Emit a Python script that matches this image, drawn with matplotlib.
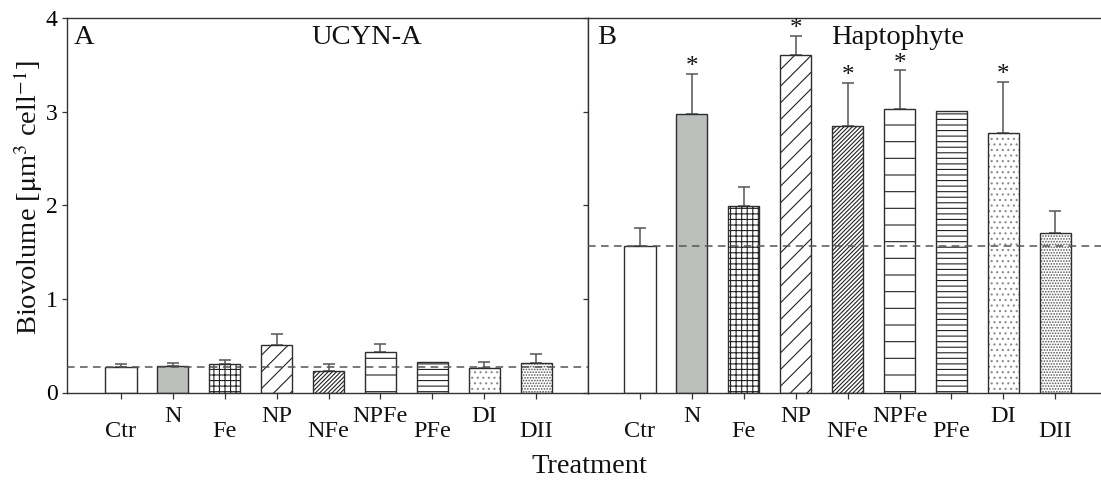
import numpy as np
import matplotlib
matplotlib.use("Agg")
import matplotlib.pyplot as plt

plt.rcParams['font.family'] = ['Liberation Serif', 'DejaVu Serif']
plt.rcParams['mathtext.fontset'] = 'stix'
plt.rcParams['hatch.linewidth'] = 0.8

# ---------------- data ----------------
treatments = ["Ctr", "N", "Fe", "NP", "NFe", "NPFe", "PFe", "DI", "DII"]

ucyn_mean = [0.27, 0.28, 0.30, 0.51, 0.23, 0.43, 0.33, 0.26, 0.32]
ucyn_upper = [0.30, 0.32, 0.35, 0.62, 0.30, 0.52, None, 0.33, 0.41]
ucyn_control = 0.27

hapto_mean = [1.56, 2.97, 1.99, 3.60, 2.85, 3.03, 3.01, 2.77, 1.70]
hapto_upper = [1.76, 3.40, 2.20, 3.81, 3.31, 3.44, None, 3.32, 1.94]
hapto_control = 1.56
hapto_signif = [False, True, False, True, True, True, False, True, False]

yticks = [0, 1, 2, 3, 4]

# ---------------- styles ----------------
fills = ['white', '#bcc0bc', 'white', 'white', 'white', 'white', 'white', 'white', 'white']
hatches = [None, None, '+++', '//', '////////', '-', '---', '...', '......']
hatch_cols = ['#333333', '#333333', '#222222', '#222222', '#222222', '#222222',
              '#222222', '#8a8a8a', '#555555']
edge = '#2e2e2e'
W, H = 1101, 484
fig = plt.figure(figsize=(W / 100, H / 100), dpi=100)

top = 1 - 18 / H
bot = 1 - 392.5 / H
xa0, xmid, xb1 = 67 / W, 588 / W, 1.0
axA = fig.add_axes([xa0, bot, xmid - xa0, top - bot])
axB = fig.add_axes([xmid, bot, xb1 - xmid, top - bot])

x = np.arange(len(treatments))


def draw(ax, means, uppers, control):
    for i in range(len(means)):
        ax.bar(x[i], means[i], width=0.6, color=fills[i], edgecolor=hatch_cols[i],
               hatch=hatches[i], linewidth=0, zorder=2)
        ax.bar(x[i], means[i], width=0.6, color='none', edgecolor=edge,
               linewidth=1.0, zorder=3)
    idx = [i for i, u in enumerate(uppers) if u is not None]
    m = np.array([means[i] for i in idx])
    u = np.array([uppers[i] for i in idx])
    ax.errorbar(x[idx], m, yerr=[np.zeros_like(m), u - m], fmt='none',
                ecolor='#555555', elinewidth=1.1, capsize=4.3, capthick=1.1, zorder=1)
    ax.axhline(control, color='#555555', lw=1.1, ls=(0, (5, 3.5)), zorder=4)
    ax.set_ylim(0, 4)
    ax.set_yticks(yticks)
    ax.set_xticks(x)
    ax.set_xticklabels([])
    ax.tick_params(axis='x', direction='out', length=4.3, width=0.9, color='#333333')
    ax.tick_params(axis='y', direction='out', length=3.6, width=0.9, color='#333333',
                   labelsize=17, pad=3)
    for s in ax.spines.values():
        s.set_color('#333333')
        s.set_linewidth(1.0)
    for i, lab in enumerate(treatments):
        off = -20.5 if i % 2 == 0 else -9.5
        ax.annotate(lab, xy=(x[i], 0), xycoords=('data', 'axes fraction'),
                    xytext=(0, off), textcoords='offset points',
                    ha='center', va='top', fontsize=17.5, color='#111111')


draw(axA, ucyn_mean, ucyn_upper, ucyn_control)
draw(axB, hapto_mean, hapto_upper, hapto_control)

axA.set_xlim(-1.04, 9.0)
axB.set_xlim(-1.0, 8.88)
axB.set_yticklabels([])
axB.spines['right'].set_visible(False)

for i, sig in enumerate(hapto_signif):
    if sig:
        axB.annotate('*', xy=(x[i], hapto_upper[i]), xytext=(0, 0.5),
                     textcoords='offset points', ha='center', va='baseline',
                     fontsize=18, color='#111111')

axA.text(0.013, 0.98, 'A', transform=axA.transAxes, fontsize=20.5, va='top', ha='left',
         color='#111111')
axA.text(0.576, 0.98, 'UCYN-A', transform=axA.transAxes, fontsize=20.5, va='top',
         ha='center', color='#111111')
axB.text(0.017, 0.98, 'B', transform=axB.transAxes, fontsize=20.5, va='top', ha='left',
         color='#111111')
axB.text(0.604, 0.98, 'Haptophyte', transform=axB.transAxes, fontsize=20.5, va='top',
         ha='center', color='#111111')

fig.text(28 / W, 1 - 198 / H, r'Biovolume [$\mathrm{\mu}$m$^3$ cell$^{-1}$]',
         rotation=90, ha='center', va='center', fontsize=20.5, color='#111111')
fig.text(589 / W, 1 - 473 / H, 'Treatment', ha='center', va='baseline', fontsize=20.5,
         color='#111111')

fig.savefig('out.png', dpi=100)
